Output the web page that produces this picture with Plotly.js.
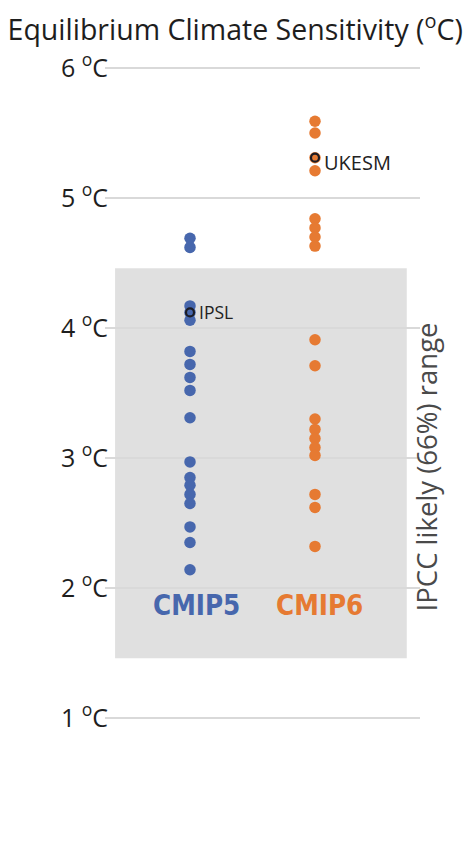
<!DOCTYPE html>
<html>
<head>
<meta charset="utf-8">
<script src="https://cdn.plot.ly/plotly-3.0.1.min.js"></script>
<style>html,body{margin:0;padding:0;background:#fff;}#chart{width:472px;height:843px;}</style>
</head>
<body>
<div id="chart"></div>
<script>
// ECS values (degrees C)
const cmip5Values = [4.69, 4.62, 4.17, 4.06, 3.82, 3.72, 3.62, 3.52, 3.31, 2.97, 2.85, 2.79, 2.72, 2.65, 2.47, 2.35, 2.14];
const cmip6Values = [5.59, 5.50, 5.21, 4.84, 4.77, 4.70, 4.63, 3.91, 3.71, 3.30, 3.22, 3.15, 3.08, 3.02, 2.72, 2.62, 2.32];
const groups = ["CMIP5", "CMIP6"];
const highlightModels = ["IPSL", "UKESM"];
const highlightGroups = ["CMIP5", "CMIP6"];
const highlightValues = [4.12, 5.31];
const likelyRange = [1.46, 4.46];
const tickValues = [1, 2, 3, 4, 5, 6];
const tickLabels = tickValues.map(v => v + " <sup>o</sup>C");

const blue = "#4767ad";
const orange = "#e67a32";
const condensed = "'DejaVu Sans Condensed', 'Liberation Sans Narrow', 'Arial Narrow', Roboto, sans-serif";

const traces = [
  {x: cmip5Values.map(() => groups[0]).concat([highlightGroups[0]]), y: cmip5Values.concat([highlightValues[0]]), type: "scatter", mode: "markers",
   marker: {color: blue, size: 11.5}, hoverinfo: "y"},
  {x: cmip6Values.map(() => groups[1]).concat([highlightGroups[1]]), y: cmip6Values.concat([highlightValues[1]]), type: "scatter", mode: "markers",
   marker: {color: orange, size: 11.5}, hoverinfo: "y"},
  {x: highlightGroups, y: highlightValues, type: "scatter", mode: "markers",
   marker: {symbol: "circle-open", color: "#1c1c24", size: 8, line: {width: 2.2}}, hoverinfo: "y"}
];

const annotations = highlightModels.map((m, i) => ({
  x: highlightGroups[i], y: highlightValues[i], text: m, showarrow: false,
  xanchor: "left", xshift: 7, yshift: i === 1 ? -5 : 0,
  font: {family: "Open Sans", size: i === 1 ? 20 : 17.5, color: "#222"}
}));
annotations.push(
  {x: groups[0], y: 1.87, text: "<b>CMIP5</b>", showarrow: false, xshift: 6,
   font: {family: condensed, size: 27.5, color: blue}},
  {x: groups[1], y: 1.87, text: "<b>CMIP6</b>", showarrow: false, xshift: 4,
   font: {family: condensed, size: 27.5, color: orange}},
  {xref: "paper", x: 1.02, y: (likelyRange[0] + likelyRange[1]) / 2 - 0.03, text: "IPCC likely (66%) range", showarrow: false,
   textangle: -90, xanchor: "center", yanchor: "middle",
   font: {family: "Open Sans", size: 27.5, color: "#4a4a4a"}}
);

const layout = {
  width: 472, height: 843,
  margin: {l: 105, r: 52, t: 55, b: 34},
  paper_bgcolor: "#fff", plot_bgcolor: "#fff",
  showlegend: false,
  font: {family: "Open Sans", color: "#222"},
  title: {text: "Equilibrium Climate Sensitivity (<sup>o</sup>C)", x: 0.016, xanchor: "left", xref: "container",
          y: 0.9645, yanchor: "middle", yref: "container",
          font: {family: "Open Sans", size: 28.5, color: "#1e1e1e"}},
  xaxis: {type: "category", categoryarray: groups, range: [-0.68, 1.84], showgrid: false, zeroline: false,
          showline: false, showticklabels: false, ticks: ""},
  yaxis: {range: [0.3, 6.1], tickvals: tickValues, ticktext: tickLabels, showgrid: true, gridcolor: "#d9d9d9",
          gridwidth: 2, zeroline: false, showline: false, ticks: "", ticklabelstandoff: -4,
          tickfont: {family: "Open Sans", size: 25, color: "#1e1e1e"}},
  shapes: [{type: "rect", xref: "paper", x0: 0.032, x1: 0.958, yref: "y", y0: likelyRange[0], y1: likelyRange[1],
            fillcolor: "#e0e0e0", line: {width: 0}, layer: "below"}],
  annotations: annotations
};

Plotly.newPlot("chart", traces, layout, {displayModeBar: false, staticPlot: true});
</script>
</body>
</html>
